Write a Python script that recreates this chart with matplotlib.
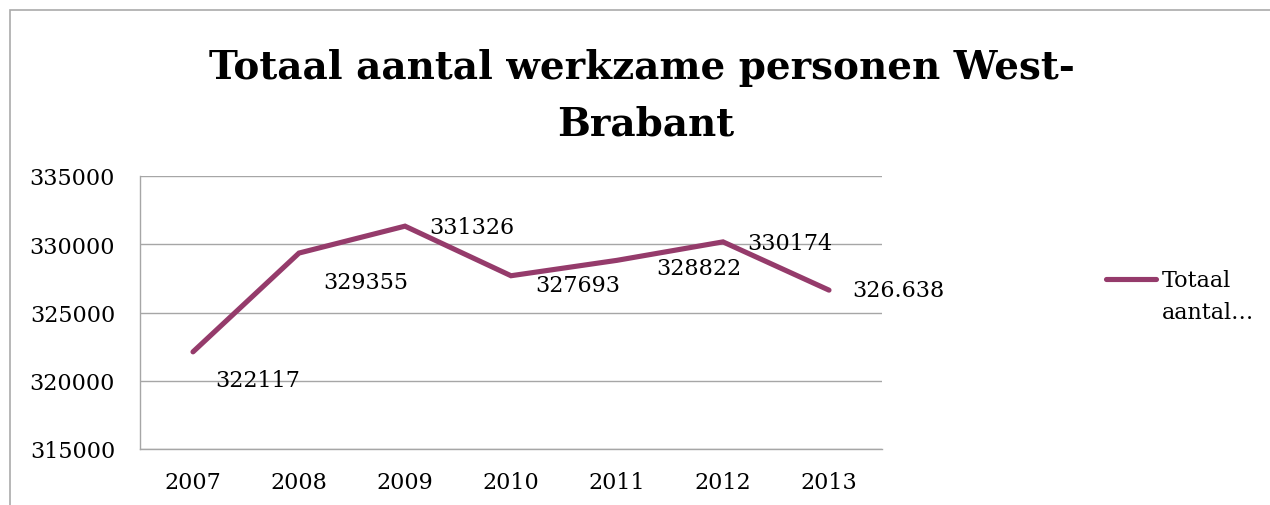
import matplotlib.pyplot as plt
from matplotlib.patches import Rectangle
from matplotlib.lines import Line2D

# Data
years = ["2007", "2008", "2009", "2010", "2011", "2012", "2013"]
werkzaam = [322117, 329355, 331326, 327693, 328822, 330174, 326638]
labels = ["322117", "329355", "331326", "327693", "328822", "330174", "326.638"]
yticks = [315000, 320000, 325000, 330000, 335000]

# label offsets (pixels right / down from the point)
offsets = [(22, 28), (24, 29), (24, 1), (24, 9), (39, 8), (24, 1), (23, 0)]

line_color = "#953B6B"
grid_color = "#A6A6A6"
font = "DejaVu Serif"

fig = plt.figure(figsize=(12.7, 5.06), dpi=100)
ax = fig.add_axes([140 / 1270, 1 - 450 / 506, 742 / 1270, 273 / 506])

x = list(range(len(years)))
ax.plot(x, werkzaam, color=line_color, lw=3.7, solid_capstyle="round",
        solid_joinstyle="miter", zorder=3)

for i, (v, lab) in enumerate(zip(werkzaam, labels)):
    dx, dy = offsets[i]
    ax.annotate(lab, (i, v), xytext=(dx * 0.72, -dy * 0.72), textcoords="offset points",
                ha="left", va="center", fontsize=16, family=font, color="black")

ax.set_xlim(-0.5, 6.5)
ax.set_ylim(315000, 335000)
ax.set_yticks(yticks)
ax.set_yticklabels([str(t) for t in yticks], family=font, fontsize=16)
ax.set_xticks(x)
ax.set_xticklabels(years, family=font, fontsize=16)
ax.tick_params(axis="both", length=0)
ax.tick_params(axis="y", pad=18)
ax.tick_params(axis="x", pad=16)
ax.grid(axis="y", color=grid_color, lw=1)
ax.set_axisbelow(True)
for s in ["top", "right"]:
    ax.spines[s].set_visible(False)
for s in ["left", "bottom"]:
    ax.spines[s].set_color(grid_color)
    ax.spines[s].set_linewidth(1)

# title
fig.text(642 / 1270, 1 - 79 / 506, "Totaal aantal werkzame personen West-",
         ha="center", va="baseline", fontsize=28, fontweight="bold", family=font)
fig.text(646 / 1270, 1 - 136 / 506, "Brabant",
         ha="center", va="baseline", fontsize=28, fontweight="bold", family=font)

# legend
fig.add_artist(Line2D([1106 / 1270, 1156 / 1270], [1 - 280 / 506, 1 - 280 / 506],
                      color=line_color, lw=3.7, solid_capstyle="round"))
fig.text(1162 / 1270, 1 - 281 / 506, "Totaal", ha="left", va="center",
         fontsize=16, family=font)
fig.text(1162 / 1270, 1 - 313 / 506, "aantal…", ha="left", va="center",
         fontsize=16, family=font)

# outer chart border
fig.add_artist(Rectangle((9.5 / 1270, -0.1), 1.2, 1.1 - 11 / 506, transform=fig.transFigure,
                         fill=False, edgecolor="#AAAAAA", lw=1.2))

fig.savefig("out.png", dpi=100)
